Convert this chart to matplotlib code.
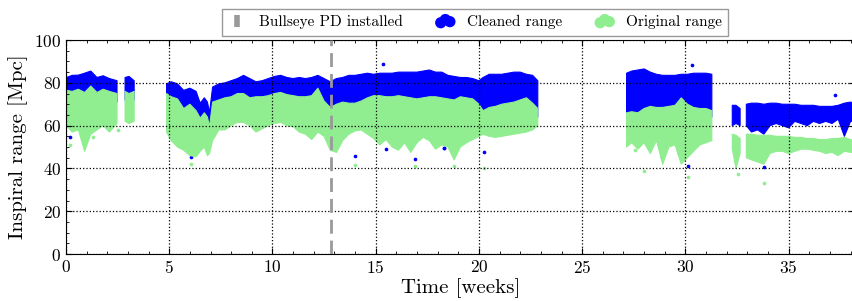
import numpy as np
import matplotlib
matplotlib.use('Agg')
import matplotlib.pyplot as plt
from matplotlib.lines import Line2D
from matplotlib.ticker import MultipleLocator

plt.rcParams['font.family'] = 'serif'
plt.rcParams['font.serif'] = ['cmr10', 'DejaVu Serif']
plt.rcParams['mathtext.fontset'] = 'cm'
plt.rcParams['axes.formatter.use_mathtext'] = True

nan = np.nan

# time in weeks, nan separates the observing segments
weeks = [0.03, 0.3, 0.6, 0.9, 1.2, 1.5, 1.8, 2.1, 2.47, nan,
         2.86, 3.05, 3.3, nan,
         4.87, 5.1, 5.4, 5.7, 6.0, 6.3, 6.5, 6.7, 6.85, 6.95, 7.1, 7.4, 7.7, 8.0, 8.3, 8.6, 8.9,
         9.2, 9.5, 9.8, 10.1, 10.4, 10.7, 11.0, 11.3, 11.6, 11.9, 12.2, 12.5, 12.8, 13.1, 13.4,
         13.7, 14.0, 14.3, 14.6, 14.9, 15.2, 15.5, 15.8, 16.1, 16.4, 16.7, 17.0, 17.3, 17.6,
         17.9, 18.2, 18.5, 18.8, 19.1, 19.4, 19.7, 20.0, 20.2, 20.5, 20.8, 21.1, 21.4, 21.7,
         22.0, 22.3, 22.6, 22.85, nan,
         27.15, 27.4, 27.7, 28.0, 28.3, 28.6, 28.9, 29.2, 29.5, 29.8, 30.1, 30.4, 30.7, 31.0, 31.28, nan,
         32.27, 32.45, 32.65, nan,
         32.95, 33.2, 33.5, 33.8, 34.1, 34.4, 34.7, 35.0, 35.3, 35.6, 35.9, 36.2, 36.5, 36.8,
         37.1, 37.4, 37.7, 38.0, 38.2]

# cleaned range band (Mpc)
cleaned_hi = [82.5, 83.5, 83.6, 84.5, 85.5, 82.5, 83.3, 82, 81, nan,
              82.5, 83, 81, nan,
              79.5, 80.5, 79.5, 76.5, 77.5, 76, 70.5, 73, 71, 66, 78, 79.5, 80, 81, 82, 83.5, 82,
              80.5, 81, 82, 83, 83.5, 82.5, 82, 82.5, 82, 82.5, 83.5, 82, 80.5, 82, 82.5,
              83.5, 83.5, 84, 84.5, 84, 84.5, 84.5, 84.5, 85, 85, 85, 85, 85.5, 86,
              85, 85, 83.5, 83, 82.5, 82.5, 82, 81, 82.5, 84, 84, 84, 84.5, 85,
              85, 84, 83.5, 81, nan,
              84.5, 85.5, 86, 86.5, 85, 84, 83.5, 83.5, 83.5, 84, 84, 84.5, 84.5, 84.5, 84, nan,
              69.5, 69.5, 68, nan,
              70, 70.5, 70.5, 70, 70.5, 70.5, 70, 70, 70, 69.5, 69.5, 69.5, 69, 69,
              69, 69.5, 70.5, 71, 70.5]
cleaned_lo = [72, 72, 73, 71, 74, 71, 73, 72, 71, nan,
              72, 71, 72, nan,
              71, 70, 69, 64, 66, 63, 60, 62, 60, 55, 67, 68, 69, 70, 71, 71, 69,
              70, 70, 70, 71, 71, 70, 70, 69, 69, 70, 73, 68, 66, 67, 68,
              67, 67, 68, 69, 70, 70, 69, 69, 70, 69, 69, 68, 69, 69,
              69, 69, 68, 68, 69, 69, 68, 66, 63, 65, 65, 66, 67, 67,
              68, 69, 67, 64, nan,
              63, 63, 63, 65, 66, 65, 65, 66, 66, 69, 67, 65, 65, 65, 64, nan,
              60, 61, 60, nan,
              60, 57, 58, 56, 60, 61, 60, 59, 62, 61, 60, 62, 61, 62,
              61, 63, 55, 62, 62]

# original range band (Mpc)
original_hi = [76.5, 76, 77, 75.5, 78.5, 75.5, 77, 76, 75, nan,
               76, 75, 76, nan,
               75, 73.5, 72.5, 68, 70, 67, 63.5, 66, 64, 59.5, 71, 72, 73, 73.5, 75, 75, 73,
               73.5, 73.5, 74, 75, 75.5, 74.5, 74, 73.5, 73.5, 74, 77.5, 71.5, 68.5, 70, 71,
               70.5, 70.5, 71.5, 73, 74, 74, 73.5, 73.5, 74, 73.5, 73, 72.5, 73, 73.5,
               73.5, 73, 72.5, 72, 73.5, 73, 72.5, 70, 67, 68.5, 69, 70, 70.5, 71,
               72, 73, 70.5, 68, nan,
               66, 66.5, 66, 68, 69, 68.5, 68.5, 69, 69.5, 73, 70, 68.5, 68, 68, 67, nan,
               56, 55.5, 54, nan,
               56, 56, 55.5, 55.5, 55.5, 55, 55, 55, 54.5, 54.5, 54, 54, 53.5, 53.5,
               54, 54, 54.5, 53.5, 53]
original_lo = [60, 57, 58, 48, 56, 58, 60, 57, 61, nan,
               62, 61, 62, nan,
               57, 53, 50, 48.5, 46, 45.5, 48, 50, 46, 47, 53, 58, 58, 60, 61.5, 61.5, 60,
               57, 58.5, 60, 61, 61.5, 60, 59.5, 57, 56, 53.5, 57, 55, 48.5, 47.5, 53,
               56, 57.5, 58, 56, 54, 51, 53.5, 50, 48.5, 52, 47.5, 52, 54.5, 53,
               49, 51, 50, 44, 50, 52, 53.5, 55, 56, 55, 54.5, 55, 55.5, 56,
               56.5, 57, 58, 60, nan,
               50, 52, 49, 52, 47, 53, 42, 50, 51, 42, 45, 48, 51, 52, 53, nan,
               49, 40, 47, nan,
               45, 44, 43, 42, 47, 48, 48, 47, 48, 49, 49, 48.5, 48, 47,
               47.5, 46, 48, 47.5, 47.5]

# isolated points away from the bands
cleaned_out_t = [0.19, 6.05, 14.0, 15.37, 15.5, 16.91, 18.29, 18.3, 20.26, 28.87, 29.7, 30.13, 30.34, 33.83, 37.25]
cleaned_out_v = [54.7, 45.5, 45.6, 88.7, 49, 44.5, 49.7, 49.7, 47.7, 45.3, 47, 41, 88.3, 40.8, 74.2]
original_out_t = [0.19, 1.29, 2.5, 5.8, 6.05, 14.0, 16.91, 18.8, 20.26, 27.54, 28.0, 30.13, 32.56, 33.8]
original_out_v = [50.8, 54.7, 58, 49, 42.2, 41.4, 41, 41, 40.3, 48.7, 38.8, 36, 37.4, 33.2]

pd_installed = 12.82

fig = plt.figure(figsize=(8.53, 3.01), dpi=100)
ax = fig.add_axes([0.0774, 0.156, 0.9246, 0.711])

t = np.array(weeks)
ax.fill_between(t, cleaned_lo, cleaned_hi, color='blue', lw=0.8, edgecolor='blue', zorder=1)
ax.scatter(cleaned_out_t, cleaned_out_v, s=7, color='blue', lw=0, zorder=1.2)
ax.fill_between(t, original_lo, original_hi, color='lightgreen', lw=0.8, edgecolor='lightgreen', zorder=1.5)
ax.scatter(original_out_t, original_out_v, s=7, color='lightgreen', lw=0, zorder=1.6)

ax.axvline(pd_installed, color='#999999', ls='--', lw=2, dashes=(5, 2.5), zorder=4)

ax.set_xlim(0, 38.2)
ax.set_ylim(0, 100)
ax.xaxis.set_major_locator(MultipleLocator(5))
ax.xaxis.set_minor_locator(MultipleLocator(1))
ax.yaxis.set_major_locator(MultipleLocator(20))
ax.yaxis.set_minor_locator(MultipleLocator(5))
ax.tick_params(which='both', direction='in', top=True, right=True, labelsize=12.5)
ax.tick_params(which='major', length=4)
ax.tick_params(which='minor', length=2)
ax.set_axisbelow(False)
ax.grid(True, which='major', color='k', ls=':', lw=0.9)
ax.set_xlabel('Time [weeks]', fontsize=15, labelpad=2)
ax.set_ylabel('Inspiral range [Mpc]', fontsize=15, labelpad=4)

handles = [Line2D([], [], color='#999999', marker='|', markersize=9, markeredgewidth=4, ls='none'),
           ax.scatter([], [], s=50, color='blue'),
           ax.scatter([], [], s=50, color='lightgreen')]
leg = fig.legend(handles, ['Bullseye PD installed', 'Cleaned range', 'Original range'],
                 loc='upper center', bbox_to_anchor=(0.557, 0.995), ncol=3, fontsize=11,
                 scatterpoints=3, scatteryoffsets=[0.35, 0.65, 0.45], handlelength=1.2,
                 columnspacing=2.2, fancybox=False, framealpha=1, edgecolor='#999999',
                 borderpad=0.4)
leg.get_frame().set_linewidth(1.0)

fig.savefig('out.png', dpi=100)
